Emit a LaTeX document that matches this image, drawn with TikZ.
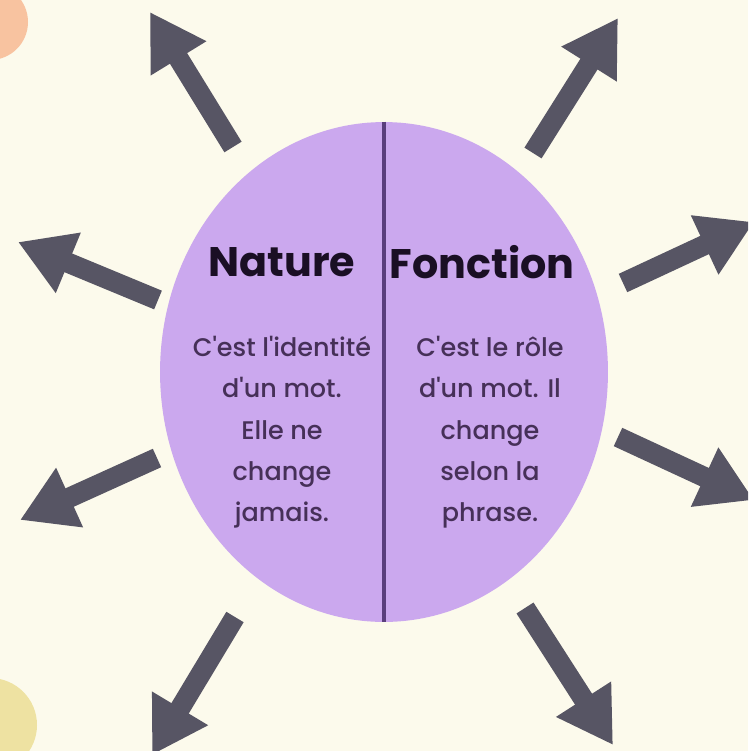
\documentclass[tikz,border=0pt]{standalone}
\usepackage{fontspec}
\setmainfont{Poppins}
\newfontfamily\moyen{Poppins}[UprightFont = * Medium]
\usetikzlibrary{arrows.meta, shapes.geometric}

\definecolor{fond}{HTML}{FCFAEC}
\definecolor{lavande}{HTML}{CBA8EE}
\definecolor{ardoise}{HTML}{575564}
\definecolor{prune}{HTML}{463058}
\definecolor{trait}{HTML}{5A3E7C}
\definecolor{encre}{HTML}{1A0F24}
\definecolor{peche}{HTML}{F8C3A0}
\definecolor{paille}{HTML}{EEE2A2}

\begin{document}
\begin{tikzpicture}[
            x = 0.02cm, y = -0.02cm, % one unit per pixel, y going down
            > = {Triangle[length = 31pt, width = 35pt]}, % big arrow head
            semithick % line style
        ]

        \tikzstyle{fleche}=[
            ->,
            draw = ardoise,
            line width = 11.5pt
        ]
        \tikzstyle{titre}=[
            font = \bfseries\fontsize{23.5}{27}\selectfont,
            text = encre
        ]
        \tikzstyle{texte}=[
            font = \moyen\fontsize{14.5}{23.5}\selectfont,
            text = prune,
            align = center
        ]

        \path[use as bounding box, fill = fond] (0,0) rectangle (748,751);
        \clip (0,0) rectangle (748,751);

        \fill[peche] (-10,22) circle (38);
        \fill[paille] (-10,725) circle (47);

        \node[ellipse, fill = lavande, inner sep = 0,
              minimum width = 8.96cm, minimum height = 10cm] (ovale) at (384,372) {};
        \draw[trait, line width = 2.5pt] (ovale.north) -- (ovale.south);

        \node[titre] (nature) at (282,262) {Nature};
        \node[titre] (fonction) at (482,262) {Fonction};
        \node[texte, anchor = north] (identite) at (282,330)
            {C'est l'identité\\d'un mot.\\Elle ne\\change\\jamais.};
        \node[texte, anchor = north] (role) at (490,330)
            {C'est le rôle\\d'un mot. Il\\change\\selon la\\phrase.};

        \coordinate (q1) at (233,147); \coordinate (p1) at (150,12);
        \coordinate (q2) at (533,153); \coordinate (p2) at (618,18);
        \coordinate (q3) at (623,283); \coordinate (p3) at (754,222);
        \coordinate (q4) at (618,437); \coordinate (p4) at (754,500);
        \coordinate (q5) at (525,608); \coordinate (p5) at (613,745);
        \coordinate (q6) at (235,617); \coordinate (p6) at (152,755);
        \coordinate (q7) at (157,458); \coordinate (p7) at (20,520);
        \coordinate (q8) at (158,300); \coordinate (p8) at (18,242);

        \draw[fleche] (q1) -- (p1);
        \draw[fleche] (q2) -- (p2);
        \draw[fleche] (q3) -- (p3);
        \draw[fleche] (q4) -- (p4);
        \draw[fleche] (q5) -- (p5);
        \draw[fleche] (q6) -- (p6);
        \draw[fleche] (q7) -- (p7);
        \draw[fleche] (q8) -- (p8);

  \end{tikzpicture}
\end{document}
